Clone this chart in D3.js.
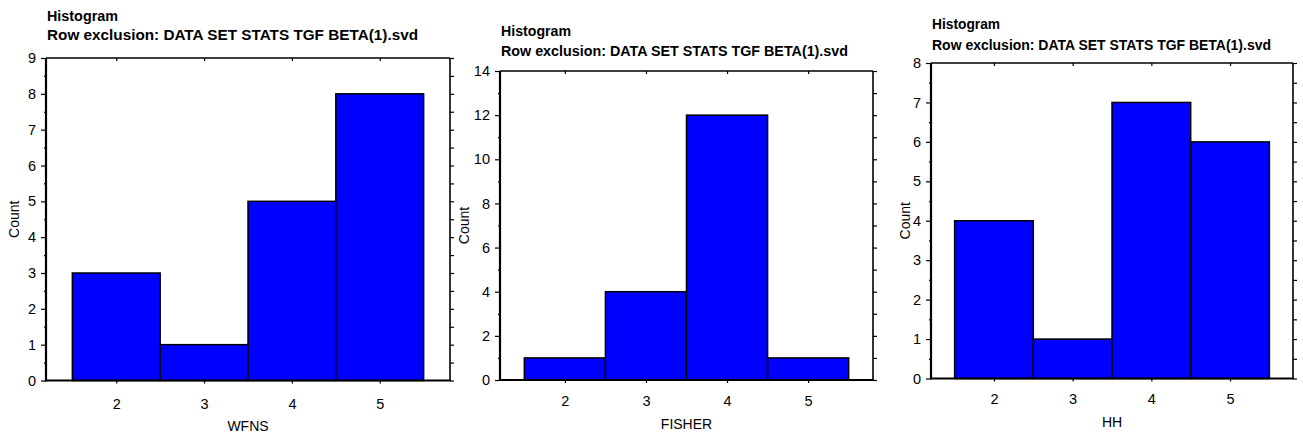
<!DOCTYPE html>
<html>
<head>
<meta charset="utf-8">
<script src="https://cdn.jsdelivr.net/npm/d3@7"></script>
<style>
  html, body { margin: 0; padding: 0; background: #fff; }
  svg { display: block; font-family: "Liberation Sans", Arial, sans-serif; }
</style>
</head>
<body>
<svg id="chart" width="1303" height="440"></svg>
<script>
// ---- Data ----
const categories = [2, 3, 4, 5];
const wfnsCounts = [3, 1, 5, 8];
const fisherCounts = [1, 4, 12, 1];
const hhCounts = [4, 1, 7, 6];
const titleLine1 = "Histogram";
const titleLine2 = "Row exclusion: DATA SET STATS TGF BETA(1).svd";
const xLabels = ["WFNS", "FISHER", "HH"];
const yLabel = "Count";
const wfnsTicks = [0, 1, 2, 3, 4, 5, 6, 7, 8, 9];
const fisherTicks = [0, 2, 4, 6, 8, 10, 12, 14];
const hhTicks = [0, 1, 2, 3, 4, 5, 6, 7, 8];

// ---- Layout (positions only) ----
const panels = [
  { counts: wfnsCounts, ticks: wfnsTicks, minorStep: 0.5, xLabel: xLabels[0],
    left: 46, right: 450, top: 58, bottom: 380.5, t1: 21, t2: 40, w1: 71, w2: 371, xt: 409, xl: 431, yl: 14 },
  { counts: fisherCounts, ticks: fisherTicks, minorStep: 1, xLabel: xLabels[1],
    left: 500, right: 873, top: 71, bottom: 380, t1: 36, t2: 56, w1: 70, w2: 347, xt: 406, xl: 429, yl: 464 },
  { counts: hhCounts, ticks: hhTicks, minorStep: 0.5, xLabel: xLabels[2],
    left: 931, right: 1293, top: 63, bottom: 378.5, t1: 29, t2: 50, w1: 68, w2: 339, xt: 404, xl: 427, yl: 905 }
];

const svg = d3.select("#chart");

panels.forEach(p => {
  const g = svg.append("g");
  const yMax = p.ticks[p.ticks.length - 1];
  const x = d3.scaleLinear().domain([1.2, 5.8]).range([p.left, p.right]);
  const y = d3.scaleLinear().domain([0, yMax]).range([p.bottom, p.top]);
  const allSteps = d3.range(0, yMax + 1e-9, p.minorStep);
  const minorTicks = allSteps.filter(v => !p.ticks.includes(v));

  // Bars
  g.selectAll("rect.bar").data(categories.map((c, i) => ({ c, v: p.counts[i] })))
    .join("rect")
    .attr("class", "bar")
    .attr("x", d => x(d.c - 0.5))
    .attr("width", d => x(d.c + 0.5) - x(d.c - 0.5))
    .attr("y", d => y(d.v))
    .attr("height", d => y(0) - y(d.v))
    .attr("fill", "#0000ff")
    .attr("stroke", "#000")
    .attr("stroke-width", 1.5);

  // Left axis (major)
  const la = g.append("g").attr("transform", `translate(${p.left},0)`)
    .call(d3.axisLeft(y).tickValues(p.ticks).tickSize(5).tickPadding(5).tickFormat(d3.format("d")));
  la.select(".domain").remove();
  la.selectAll("text").attr("font-size", 14.5).attr("fill", "#000").attr("font-family", "Liberation Sans, Arial, sans-serif");
  la.selectAll("line").attr("stroke-width", 1.2);
  // Left minor ticks
  const lm = g.append("g").attr("transform", `translate(${p.left},0)`)
    .call(d3.axisLeft(y).tickValues(minorTicks).tickSize(2).tickFormat(""));
  lm.select(".domain").remove();
  lm.selectAll("line").attr("stroke-width", 1.2);

  // Right axis ticks
  const ra = g.append("g").attr("transform", `translate(${p.right},0)`)
    .call(d3.axisRight(y).tickValues(allSteps).tickSize(4).tickFormat(""));
  ra.select(".domain").remove();
  ra.selectAll("line").attr("stroke-width", 1.2);

  // Bottom axis
  const ba = g.append("g").attr("transform", `translate(0,${p.bottom})`)
    .call(d3.axisBottom(x).tickValues(categories).tickSize(3).tickFormat(d3.format("d")));
  ba.select(".domain").remove();
  ba.selectAll("text").attr("font-size", 14.5).attr("fill", "#000").attr("font-family", "Liberation Sans, Arial, sans-serif")
    .attr("dy", null).attr("y", p.xt - p.bottom);
  ba.selectAll("line").attr("stroke-width", 1.2);

  // Top axis ticks (inward)
  const ta = g.append("g").attr("transform", `translate(0,${p.top})`)
    .call(d3.axisBottom(x).tickValues(categories).tickSize(3).tickFormat(""));
  ta.select(".domain").remove();
  ta.selectAll("line").attr("stroke-width", 1.2);

  // Frame lines
  g.append("line").attr("x1", p.left).attr("x2", p.left).attr("y1", p.top).attr("y2", p.bottom + 1)
    .attr("stroke", "#000").attr("stroke-width", 2.2);
  g.append("line").attr("x1", p.left).attr("x2", p.right + 1).attr("y1", p.bottom).attr("y2", p.bottom)
    .attr("stroke", "#000").attr("stroke-width", 2.2);
  g.append("line").attr("x1", p.left).attr("x2", p.right).attr("y1", p.top).attr("y2", p.top)
    .attr("stroke", "#000").attr("stroke-width", 1.6);
  g.append("line").attr("x1", p.right).attr("x2", p.right).attr("y1", p.top).attr("y2", p.bottom)
    .attr("stroke", "#000").attr("stroke-width", 1.6);

  // Titles
  g.append("text").attr("x", p.left + 1).attr("y", p.t1).text(titleLine1)
    .attr("font-size", 14).attr("font-weight", "bold")
    .attr("textLength", p.w1).attr("lengthAdjust", "spacingAndGlyphs");
  g.append("text").attr("x", p.left + 1).attr("y", p.t2).text(titleLine2)
    .attr("font-size", 14).attr("font-weight", "bold")
    .attr("textLength", p.w2).attr("lengthAdjust", "spacingAndGlyphs");

  // Axis labels
  g.append("text").attr("x", (p.left + p.right) / 2).attr("y", p.xl).attr("text-anchor", "middle")
    .attr("font-size", 14).text(p.xLabel);
  g.append("text").attr("transform", `translate(${p.yl},${(p.top + p.bottom) / 2}) rotate(-90)`)
    .attr("text-anchor", "middle").attr("dy", "0.35em").attr("font-size", 14).text(yLabel);
});
</script>
</body>
</html>
